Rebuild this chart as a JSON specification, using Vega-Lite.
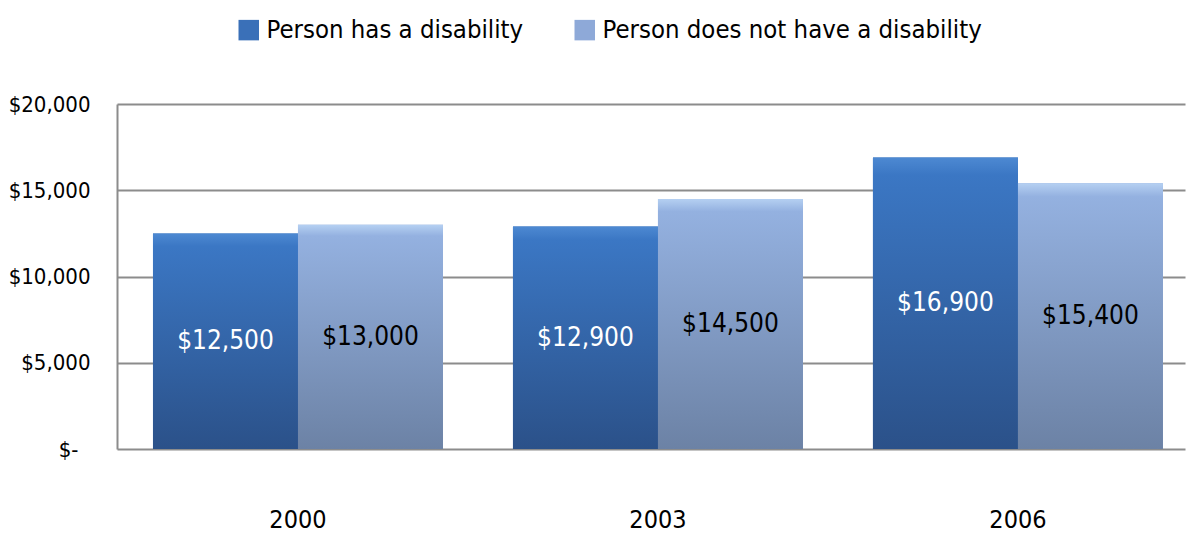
{
  "$schema": "https://vega.github.io/schema/vega-lite/v6.json",
  "width": 1068,
  "height": 345,
  "autosize": "none",
  "padding": {"left": 117, "top": 104, "right": 2, "bottom": 86},
  "config": {"view": {"stroke": null}, "font": "DejaVu Sans Condensed, Liberation Sans Narrow, Liberation Sans, sans-serif"},
  "data": {
    "values": [
      {"year": "2000", "series": "Person has a disability", "value": 12500},
      {"year": "2000", "series": "Person does not have a disability", "value": 13000},
      {"year": "2003", "series": "Person has a disability", "value": 12900},
      {"year": "2003", "series": "Person does not have a disability", "value": 14500},
      {"year": "2006", "series": "Person has a disability", "value": 16900},
      {"year": "2006", "series": "Person does not have a disability", "value": 15400}
    ]
  },
  "encoding": {
    "x": {
      "field": "year", "type": "nominal",
      "scale": {"paddingInner": 0.1944, "paddingOuter": 0.0806, "align": 0.62},
      "axis": {"title": null, "labelAngle": 0, "labelFontSize": 25, "labelColor": "#000000", "labelPadding": 58, "domain": false, "ticks": false}
    },
    "xOffset": {
      "field": "series", "type": "nominal",
      "sort": ["Person has a disability", "Person does not have a disability"],
      "scale": {"paddingInner": 0, "paddingOuter": 0}
    },
    "y": {
      "field": "value", "type": "quantitative",
      "scale": {"domain": [0, 20000]},
      "axis": {
        "title": null, "values": [0, 5000, 10000, 15000, 20000],
        "labelExpr": "datum.value == 0 ? '$-' : '$' + format(datum.value, ',')",
        "labelFontSize": 22, "labelColor": "#000000",
        "labelPadding": {"condition": {"test": "datum.value == 0", "value": 39}, "value": 27},
        "ticks": false, "domainColor": "#8c8c8c", "domainWidth": 2,
        "gridColor": "#8c8c8c", "gridWidth": 2, "gridOpacity": 1
      }
    }
  },
  "layer": [
    {
      "mark": {"type": "bar"},
      "encoding": {
        "color": {
          "field": "series", "type": "nominal",
          "scale": {"domain": ["Person has a disability", "Person does not have a disability"], "range": ["#3a70b8", "#8ea9d8"]},
          "legend": {
            "title": null, "orient": "none", "legendX": 119, "legendY": -87,
            "direction": "horizontal", "symbolType": "square", "symbolSize": 420,
            "symbolStrokeWidth": 0, "labelFontSize": 25.5, "labelColor": "#000000",
            "columnPadding": 48, "labelOffset": 5, "labelLimit": 0
          }
        }
      }
    },
    {
      "transform": [{"filter": "datum.series == 'Person has a disability'"}],
      "mark": {
        "type": "bar",
        "color": {"gradient": "linear", "x1": 0, "y1": 0, "x2": 0, "y2": 1,
          "stops": [{"offset": 0, "color": "#4d89d2"}, {"offset": 0.06, "color": "#3b77c4"}, {"offset": 1, "color": "#2b5189"}]}
      }
    },
    {
      "transform": [{"filter": "datum.series == 'Person does not have a disability'"}],
      "mark": {
        "type": "bar",
        "color": {"gradient": "linear", "x1": 0, "y1": 0, "x2": 0, "y2": 1,
          "stops": [{"offset": 0, "color": "#b5d0f2"}, {"offset": 0.05, "color": "#94b1e0"}, {"offset": 1, "color": "#6c82a5"}]}
      }
    },
    {
      "transform": [{"calculate": "datum.value / 2", "as": "mid"}],
      "mark": {"type": "text", "fontSize": 26, "baseline": "middle"},
      "encoding": {
        "y": {"field": "mid", "type": "quantitative"},
        "text": {"field": "value", "type": "quantitative", "format": "$,"},
        "color": {"condition": {"test": "datum.series == 'Person has a disability'", "value": "#ffffff"}, "value": "#000000"}
      }
    }
  ]
}
